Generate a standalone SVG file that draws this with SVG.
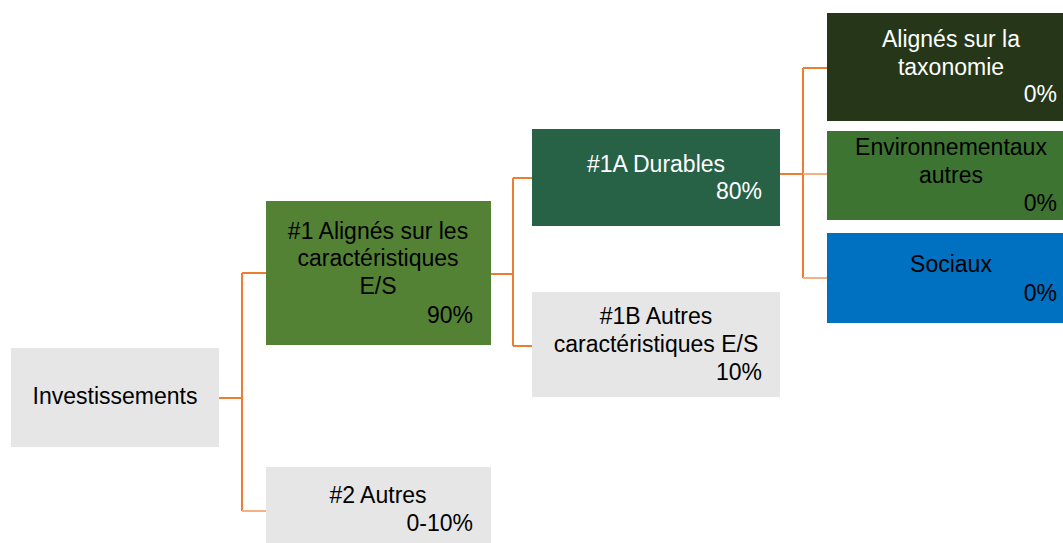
<svg xmlns="http://www.w3.org/2000/svg" width="1063" height="543" viewBox="0 0 1063 543">
<style>
text{font-family:"Liberation Sans",Arial,sans-serif;font-size:23px;fill:#000}
.c{text-anchor:middle}
.r{text-anchor:end}
.w{fill:#fff}
.ln{fill:none;stroke:#ED7D31;stroke-width:2}
.lt{fill:none;stroke:#F4B183;stroke-width:2}
</style>
<rect width="1063" height="543" fill="#fff"/>
<g id="connectors">
<path class="ln" d="M219 398H242M242 273V511M242 273H266"/>
<path class="lt" d="M242 511H266"/>
<path class="ln" d="M491 274H513M513 178V346M513 178H532M513 346H532"/>
<path class="ln" d="M780 174H803M803 68V278M803 68H827"/>
<path class="lt" d="M803 174H827M803 278H827"/>
</g>
<g id="investissements">
<rect x="11" y="348" width="208" height="99" fill="#E6E6E6"/>
<text class="c" x="115" y="404">Investissements</text>
</g>
<g id="n1">
<rect x="266" y="201" width="225" height="144" fill="#548235"/>
<text class="c" x="378" y="239">#1 Alignés sur les</text>
<text class="c" x="378" y="266">caractéristiques</text>
<text class="c" x="378" y="294">E/S</text>
<text class="r" x="473" y="323">90%</text>
</g>
<g id="n2">
<rect x="266" y="467" width="225" height="80" fill="#E6E6E6"/>
<text class="c" x="378" y="503">#2 Autres</text>
<text class="r" x="473" y="531">0-10%</text>
</g>
<g id="n1a">
<rect x="532" y="129" width="248" height="97" fill="#276146"/>
<text class="c w" x="656" y="172">#1A Durables</text>
<text class="r w" x="762" y="199">80%</text>
</g>
<g id="n1b">
<rect x="532" y="292" width="248" height="105" fill="#E6E6E6"/>
<text class="c" x="656" y="324">#1B Autres</text>
<text class="c" x="656" y="352">caractéristiques E/S</text>
<text class="r" x="762" y="380">10%</text>
</g>
<g id="taxo">
<rect x="827" y="13" width="250" height="108" fill="#253718"/>
<text class="c w" x="951" y="47">Alignés sur la</text>
<text class="c w" x="951" y="75">taxonomie</text>
<text class="r w" x="1057" y="102">0%</text>
</g>
<g id="env">
<rect x="827" y="131" width="250" height="89" fill="#3E7431"/>
<text class="c" x="951" y="155">Environnementaux</text>
<text class="c" x="951" y="183">autres</text>
<text class="r" x="1057" y="211">0%</text>
</g>
<g id="soc">
<rect x="827" y="233" width="250" height="90" fill="#0070C0"/>
<text class="c" x="951" y="272">Sociaux</text>
<text class="r" x="1057" y="301">0%</text>
</g>
</svg>
